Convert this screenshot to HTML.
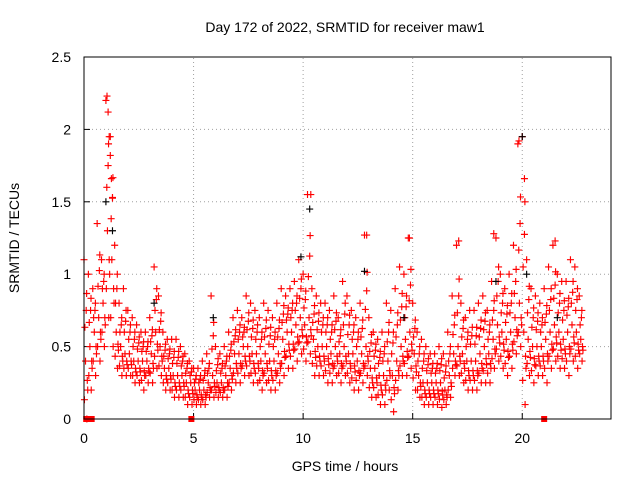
<!DOCTYPE html>
<html><head><meta charset="utf-8"><style>
body{margin:0;background:#fff;}
svg{display:block;font-family:"Liberation Sans",sans-serif;}
</style></head><body>
<svg id="chart" width="640" height="480">
<text x="345" y="32" text-anchor="middle" font-size="14">Day 172 of 2022, SRMTID for receiver maw1</text>
<text x="345" y="471" text-anchor="middle" font-size="14">GPS time / hours</text>
<text transform="translate(19,238) rotate(-90)" text-anchor="middle" font-size="14">SRMTID / TECUs</text>
<g id="grid"></g><g id="ticks"></g><g id="marks"></g>
<rect x="84" y="57" width="527" height="362" fill="none" stroke="#000" stroke-width="1"/>
</svg>
<script>
const xTicks=[0,5,10,15,20];
const yTicks=[0,0.5,1,1.5,2,2.5];
const yTickLabels=["0","0.5","1","1.5","2","2.5"];
const tStart=0, tStep=0.2;
const hiVals=[1.1,1.0,0.9,1.35,1.1, 2.2,1.95,1.2,0.8,0.9, 0.75,0.7,0.65,0.6,0.6, 0.7,1.05,0.85,0.6,0.55, 0.55,0.55,0.5,0.45,0.4, 0.35,0.35,0.4,0.45,0.85, 0.5,0.45,0.5,0.6,0.7, 0.75,0.7,0.85,0.8,0.75, 0.7,0.8,0.75,0.7,0.8, 0.9,0.85,0.9,0.95,1.1, 1.0,1.55,0.9,0.85,0.8, 0.8,0.75,0.85,0.7,0.95, 0.85,0.75,0.7,0.8,1.27, 0.7,0.6,0.55,0.6,0.8, 0.75,0.9,1.05,1.0,1.25, 0.8,0.6,0.55,0.5,0.45, 0.45,0.5,0.45,0.6,0.85, 1.2,0.8,0.7,0.75,0.75, 0.8,0.85,0.75,0.95,1.25, 1.0,0.9,1.0,1.2,1.9, 1.95,1.1,0.9,0.85,0.8, 0.9,1.05,1.2,1.0,0.95, 0.95,1.1,1.05,0.85];
const midVals=[0.4,0.5,0.6,0.7,0.8, 1.3,1.1,0.6,0.5,0.45, 0.45,0.4,0.4,0.4,0.4, 0.45,0.6,0.5,0.35,0.35, 0.3,0.3,0.3,0.25,0.25, 0.2,0.2,0.2,0.25,0.3, 0.25,0.25,0.3,0.35,0.45, 0.45,0.5,0.5,0.45,0.45, 0.4,0.45,0.4,0.4,0.45, 0.55,0.6,0.6,0.65,0.7, 0.65,0.7,0.55,0.5,0.5, 0.5,0.45,0.5,0.45,0.5, 0.45,0.45,0.4,0.45,0.5, 0.35,0.35,0.3,0.3,0.4, 0.3,0.4,0.5,0.55,0.6, 0.45,0.3,0.25,0.25,0.25, 0.25,0.25,0.2,0.3,0.45, 0.5,0.45,0.4,0.4,0.4, 0.45,0.5,0.45,0.55,0.65, 0.6,0.55,0.6,0.7,0.8, 0.6,0.55,0.5,0.5,0.5, 0.55,0.6,0.65,0.6,0.55, 0.6,0.65,0.6,0.55];
const loVals=[0.0,0.2,0.3,0.4,0.5, 0.7,0.5,0.35,0.3,0.3, 0.3,0.25,0.25,0.2,0.25, 0.25,0.35,0.3,0.2,0.2, 0.15,0.15,0.15,0.1,0.1, 0.1,0.1,0.1,0.15,0.15, 0.15,0.15,0.15,0.2,0.25, 0.25,0.3,0.3,0.25,0.25, 0.2,0.25,0.2,0.2,0.25, 0.3,0.35,0.35,0.4,0.45, 0.4,0.45,0.3,0.3,0.3, 0.25,0.25,0.3,0.25,0.3, 0.25,0.2,0.2,0.25,0.3, 0.15,0.15,0.1,0.1,0.2, 0.05,0.2,0.3,0.3,0.35, 0.2,0.15,0.1,0.1,0.1, 0.1,0.08,0.1,0.15,0.3, 0.3,0.25,0.2,0.2,0.2, 0.25,0.25,0.25,0.35,0.4, 0.35,0.3,0.35,0.45,0.5, 0.1,0.3,0.25,0.3,0.3, 0.25,0.35,0.4,0.35,0.35, 0.3,0.4,0.35,0.4];
const spikeTimes=[1.05,1.1,1.15,1.2,1.25,1.3,10.35,12.9,14.85,17.1,18.7,19.85,20.1,21.5];
const spikeVals=[2.23,2.12,1.95,1.82,1.66,1.53,1.55,1.27,1.25,1.23,1.28,1.92,1.66,1.23];
const blackTimes=[1.0,1.3,3.2,5.9,9.9,10.3,12.8,14.6,18.8,20.0,20.2,21.6];
const blackVals=[1.5,1.3,0.8,0.7,1.12,1.45,1.02,0.7,0.95,1.95,1.0,0.7];
const zeroTimes=[0.1,0.35,4.9,21.0];

const X0=84,X1=611,Y0=419,Y1=57,XMAX=24.05,YMAX=2.5;
const xs=t=>X0+(X1-X0)*t/XMAX;
const ys=v=>Y0-(Y0-Y1)*v/YMAX;
const NS="http://www.w3.org/2000/svg";
function mk(tag,attrs,parent){const e=document.createElementNS(NS,tag);for(const k in attrs)e.setAttribute(k,attrs[k]);parent.appendChild(e);return e;}
const grid=document.getElementById('grid'),ticks=document.getElementById('ticks'),marks=document.getElementById('marks');
xTicks.forEach(t=>{
  const x=xs(t);
  if(t>0){const g=mk('line',{x1:x,x2:x,y1:Y0,y2:Y1,stroke:'#a0a0a0','stroke-dasharray':'1,3'},grid);
  
  }
  const tk=mk('line',{x1:x,x2:x,y1:Y0,y2:Y0-6,stroke:'#000'},ticks);
  
  
  const tx=mk('text',{x:x,y:443,'text-anchor':'middle','font-size':'14'},ticks);tx.textContent=t;
  
  
});
yTicks.forEach((v,i)=>{
  const y=ys(v);
  if(v>0&&v<YMAX){const g=mk('line',{x1:X0,x2:X1,y1:y,y2:y,stroke:'#a0a0a0','stroke-dasharray':'1,3'},grid);
  
  }
  const tk=mk('line',{x1:X0,x2:X0+6,y1:y,y2:y,stroke:'#000'},ticks);
  
  
  const tx=mk('text',{x:71,y:y+5,'text-anchor':'end','font-size':'14'},ticks);tx.textContent=yTickLabels[i];
  
  
});
function plus(t,v,color){
  const x=xs(t),y=ys(v);
  const p=mk('path',{d:`M${x-3.5},${y}h7M${x},${y-3.5}v7`,stroke:color,'stroke-width':1.15,fill:'none'},marks);
  
  
}
hiVals.forEach((v,i)=>plus(tStart+i*tStep,v,'#f00'));
midVals.forEach((v,i)=>plus(tStart+i*tStep+0.07,v,'#f00'));
loVals.forEach((v,i)=>plus(tStart+i*tStep+0.13,v,'#f00'));
hiVals.forEach((v,i)=>plus(tStart+i*tStep+0.1,(v+midVals[i])/2,'#f00'));
midVals.forEach((v,i)=>plus(tStart+i*tStep+0.17,(v+loVals[i])/2,'#f00'));
hiVals.forEach((v,i)=>plus(tStart+i*tStep+0.04,(v+2*midVals[i])/3,'#f00'));
midVals.forEach((v,i)=>plus(tStart+i*tStep+0.15,(2*v+loVals[i])/3,'#f00'));
loVals.forEach((v,i)=>plus(tStart+i*tStep+0.02,(2*v+midVals[i])/3,'#f00'));
hiVals.forEach((v,i)=>plus(tStart+i*tStep+0.12,(2*v+midVals[i])/3,'#f00'));
blackTimes.forEach((t,i)=>plus(t,blackVals[i],'#000'));
spikeTimes.forEach((t,i)=>plus(t,spikeVals[i],'#f00'));
zeroTimes.forEach(t=>{
  const r=mk('rect',{x:xs(t)-3,y:ys(0)-3,width:6,height:6,fill:'#f00'},marks);
  
  
});
</script>
</body></html>
